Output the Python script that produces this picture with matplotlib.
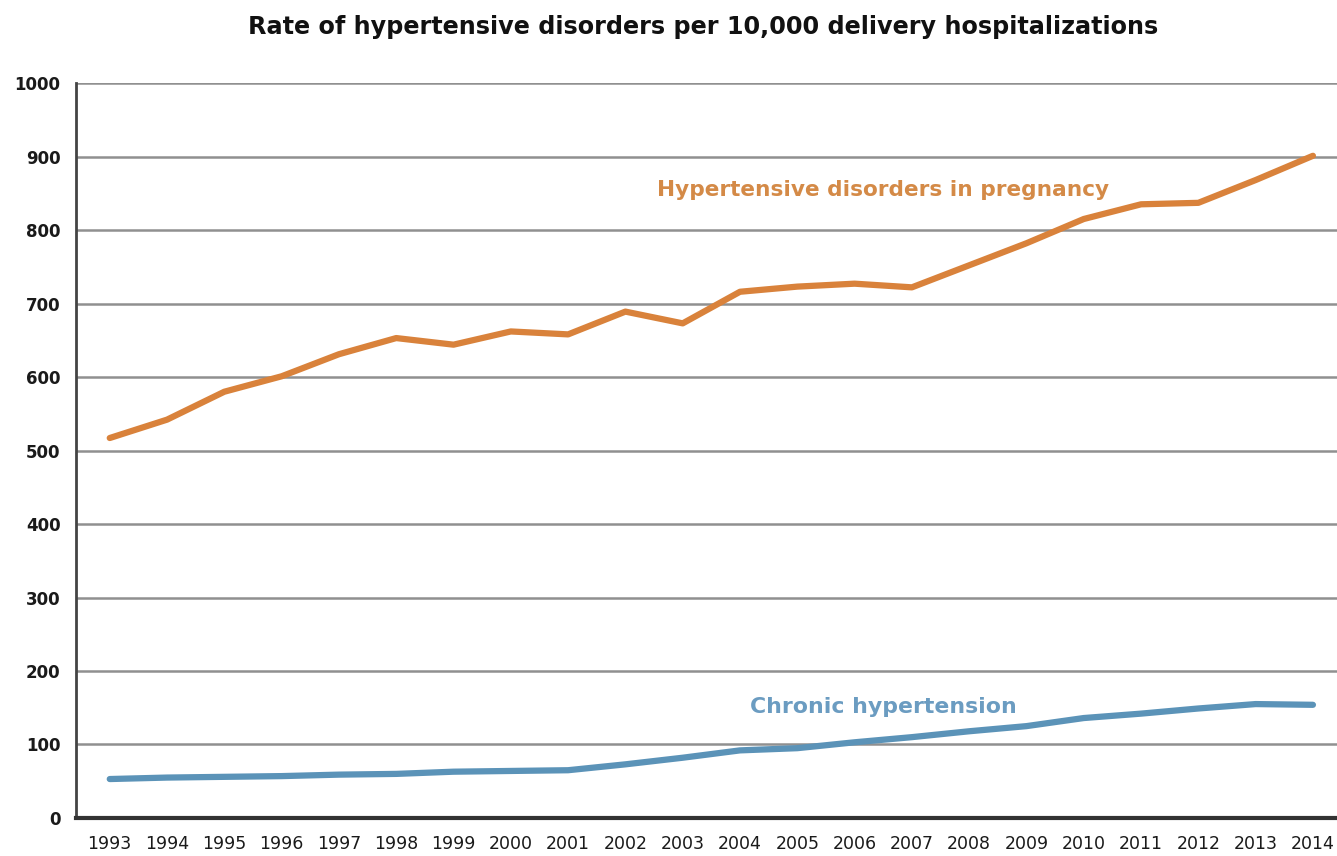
import numpy as np
import matplotlib
matplotlib.use('Agg')
from matplotlib import pyplot as plt

plt.rcParams['font.family'] = ['DejaVu Sans']

years = list(range(1993, 2015))
# hypertensive disorders in pregnancy, per 10,000 delivery hospitalizations
pregnancy = [517, 542, 580, 601, 631, 653, 644, 662, 658, 689, 673, 716,
             723, 727, 722, 752, 782, 815, 835, 837, 868, 901]
# chronic hypertension
chronic = [53, 55, 56, 57, 59, 60, 63, 64, 65, 73, 82, 92,
           95, 103, 110, 118, 125, 136, 142, 149, 155, 154]
y_ticks = list(range(0, 1001, 100))

fig = plt.figure(figsize=(13.37, 8.56), dpi=100)
ax = fig.add_axes([0.0568, 0.0444, 0.9432, 0.8586])

ax.set_xlim(1992.41, 2014.42)
ax.set_ylim(0, 1000)
ax.set_yticks(y_ticks)
ax.set_xticks(years)
ax.set_yticklabels([str(v) for v in y_ticks], fontsize=12, fontweight='bold', color='#1a1a1a')
ax.set_xticklabels([str(v) for v in years], fontsize=12.5, color='#1a1a1a')
ax.tick_params(axis='both', length=0)
ax.tick_params(axis='y', pad=11)
ax.tick_params(axis='x', pad=12)

for v in y_ticks[1:]:
    ax.axhline(v, color='#909090', lw=1.8, zorder=1)

for side in ['right', 'top']:
    ax.spines[side].set_visible(False)
ax.spines['left'].set_color('#444444')
ax.spines['left'].set_linewidth(2.0)
ax.spines['bottom'].set_color('#333333')
ax.spines['bottom'].set_linewidth(3.0)

ax.plot(years, pregnancy, color='#d9823b', lw=4.5, solid_capstyle='round', zorder=3)
ax.plot(years, chronic, color='#5b93b8', lw=4.5, solid_capstyle='round', zorder=3)

ax.text(2006.5, 855, 'Hypertensive disorders in pregnancy', color='#d48a47',
        fontsize=15.6, fontweight='bold', ha='center', va='center')
ax.text(2006.5, 151, 'Chronic hypertension', color='#6b9cc1',
        fontsize=15.8, fontweight='bold', ha='center', va='center')

fig.text(0.526, 0.968, 'Rate of hypertensive disorders per 10,000 delivery hospitalizations',
         fontsize=17.2, fontweight='bold', ha='center', va='center', color='#111111')

fig.savefig('out.png', dpi=100)
